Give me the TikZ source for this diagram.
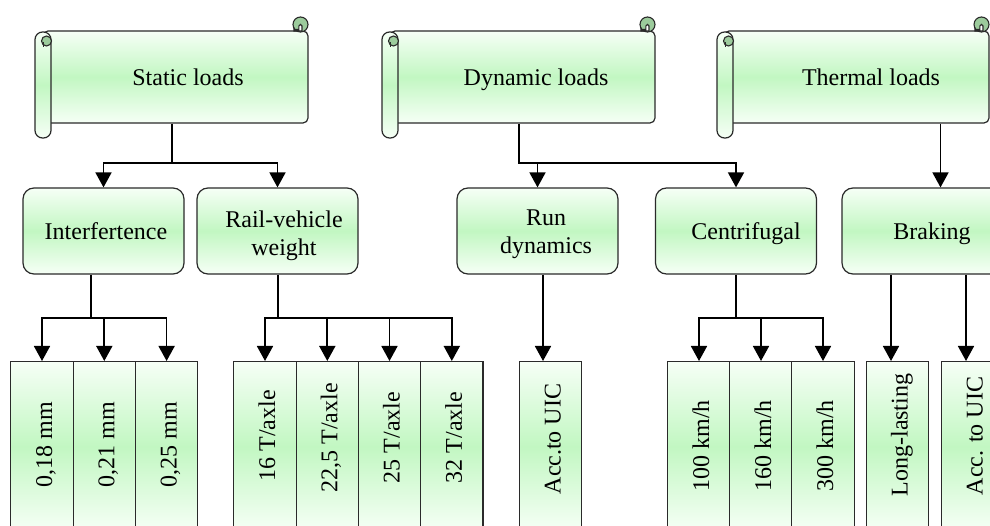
\documentclass[tikz,border=0pt]{standalone}
\usepackage{fontspec}
\setmainfont{Liberation Serif}
\usetikzlibrary{arrows.meta}
\definecolor{gtop}{HTML}{F6FFF6}
\definecolor{gmid}{HTML}{C2F7C2}
\definecolor{edge}{HTML}{2A2A2A}
\definecolor{curlc}{HTML}{9CCB9C}
\tikzset{
  gfill/.style={top color=gtop, bottom color=gtop, middle color=gmid},
  body/.style={draw=edge, line width=1.2pt, gfill, rectangle, rounded corners=5pt,
    minimum width=265pt, minimum height=92pt, inner sep=0pt},
  lvl/.style={draw=edge, line width=1.2pt, gfill, rectangle, rounded corners=11pt,
    minimum width=161pt, minimum height=86pt, inner sep=0pt},
  leaf/.style={draw=edge, line width=1.2pt, gfill, rectangle, anchor=north,
    minimum width=62.3pt, minimum height=170pt, inner sep=0pt},
  lbl/.style={font=\fontsize{24}{27.6}\selectfont, inner sep=0pt, text height=17pt, text depth=0pt},
  lbltwo/.style={font=\fontsize{24}{27.6}\selectfont, inner sep=0pt, align=center},
  vlbl/.style={font=\fontsize{24}{27.6}\selectfont, inner sep=0pt, rotate=90,
    text height=20pt, text depth=0pt},
  conn/.style={line width=1.7pt, black},
  arr/.style={conn, -{Triangle[width=16pt,length=15pt]}},
  roll/.style={draw=edge, line width=1.2pt, gfill, rounded corners=7.5pt},
  curl/.style={draw=edge, line width=1.1pt, fill=curlc},
  thin/.style={draw=edge, line width=1.1pt},
}
\newcommand{\scrollends}[2]{% #1 roll left x, #2 body right x
  \path[roll] (#1,32) rectangle ({#1+16},138);
  \draw[curl] ({#1+11.5},41) circle (5pt);
  \draw[thin] ({#1+8.5},42) -- ({#1+8.5},47);
  \draw[curl] ({#2-7.5},24.5) circle (7.5pt);
  \draw[thin, fill=white] ({#2-14},27.5) -- ({#2-14},31) -- ({#2-6},31) -- ({#2-6},26)
     arc (0:180:1.6pt) -- ({#2-9.2},29.5) -- ({#2-14},29.5);
}
\begin{document}
\begin{tikzpicture}[x=1pt, y=-1pt]
\useasboundingbox (0,0) rectangle (990,526);
\clip (0,0) rectangle (990,526);

% ---------- scrolls ----------
\node[body, label={[lbl, xshift=12.5pt]center:Static loads}] (s1) at (175.5,77) {};
\scrollends{35}{308}
\node[body, label={[lbl, xshift=13.5pt]center:Dynamic loads}] (s2) at (522.5,77) {};
\scrollends{382}{655}
\node[body, label={[lbl, xshift=14.5pt]center:Thermal loads}] (s3) at (856.5,77) {};
\scrollends{717}{989}

% ---------- level 2 ----------
\node[lvl, label={[lbl, xshift=2.5pt]center:Interfertence}] (n1) at (103.5,231) {};
\node[lvl, label={[lbltwo, xshift=6.5pt, yshift=-5pt]center:{Rail-vehicle\\weight}}] (n2) at (277.5,231) {};
\node[lvl, label={[lbltwo, xshift=8.5pt, yshift=-3pt]center:{Run\\dynamics}}] (n3) at (537.5,231) {};
\node[lvl, label={[lbl, xshift=10pt]center:Centrifugal}] (n4) at (736,231) {};
\node[lvl, label={[lbl, xshift=9.5pt]center:Braking}] (n5) at (922.5,231) {};

% ---------- leaves ----------
\node[leaf] (a1) at (42,361) {};
\node[leaf] (a2) at (104.3,361) {};
\node[leaf] (a3) at (166.6,361) {};
\node[leaf] (d1) at (265,361) {};
\node[leaf] (d2) at (327.3,361) {};
\node[leaf] (d3) at (389.5,361) {};
\node[leaf] (d4) at (451.8,361) {};
\node[leaf] (e1) at (550.5,361) {};
\node[leaf] (f1) at (699,361) {};
\node[leaf] (f2) at (761,361) {};
\node[leaf] (f3) at (823,361) {};
\node[leaf] (g1) at (897.5,361) {};
\node[leaf] (g2) at (972.5,361) {};

\node[vlbl] (a1t) at (42,445) {0,18 mm};
\node[vlbl] (a2t) at (104.3,445) {0,21 mm};
\node[vlbl] (a3t) at (166.6,445) {0,25 mm};
\node[vlbl] (d1t) at (265,436) {16 T/axle};
\node[vlbl] (d2t) at (327.3,438) {22,5 T/axle};
\node[vlbl] (d3t) at (389.5,437.5) {25 T/axle};
\node[vlbl] (d4t) at (451.8,437.5) {32 T/axle};
\node[vlbl] (e1t) at (550.5,439) {Acc.to UIC};
\node[vlbl] (f1t) at (699,446) {100 km/h};
\node[vlbl] (f2t) at (761,446) {160 km/h};
\node[vlbl] (f3t) at (823,446) {300 km/h};
\node[vlbl] (g1t) at (897.5,435) {Long-lasting};
\node[vlbl] (g2t) at (972.5,436) {Acc. to UIC};

% ---------- connectors: top level ----------
\coordinate (b1) at (172,163);
\draw[conn] (s1.south -| b1) -- (b1);
\draw[arr] (b1) -| (n1.north);
\draw[arr] (b1) -| (n2.north);

\coordinate (b2) at (519,163);
\draw[arr] (s2.south -| b2) -- (b2) -| (n4.north);
\draw[arr] (n3.north |- b2) -- (n3.north);

\coordinate (b3) at (940.5,0);
\draw[arr] (s3.south -| b3) -- (n5.north -| b3);

% ---------- connectors: second level ----------
\coordinate (c1) at (91,318);
\draw[conn] (n1.south -| c1) -- (c1);
\draw[arr] (c1) -| (a1.north);
\draw[arr] (c1) -| (a2.north);
\draw[arr] (c1) -| (a3.north);

\coordinate (c2) at (278,318);
\draw[conn] (n2.south -| c2) -- (c2);
\draw[arr] (c2) -| (d1.north);
\draw[arr] (c2) -| (d2.north);
\draw[arr] (c2) -| (d3.north);
\draw[arr] (c2) -| (d4.north);

\coordinate (c3) at (543,0);
\draw[arr] (n3.south -| c3) -- (e1.north -| c3);

\coordinate (c4) at (736,318);
\draw[conn] (n4.south) -- (c4);
\draw[arr] (c4) -| (f1.north);
\draw[arr] (c4) -| (f2.north);
\draw[arr] (c4) -| (f3.north);

\coordinate (c5) at (891,0);
\coordinate (c6) at (966,0);
\draw[arr] (n5.south -| c5) -- (g1.north -| c5);
\draw[arr] (n5.south -| c6) -- (g2.north -| c6);
\end{tikzpicture}
\end{document}
